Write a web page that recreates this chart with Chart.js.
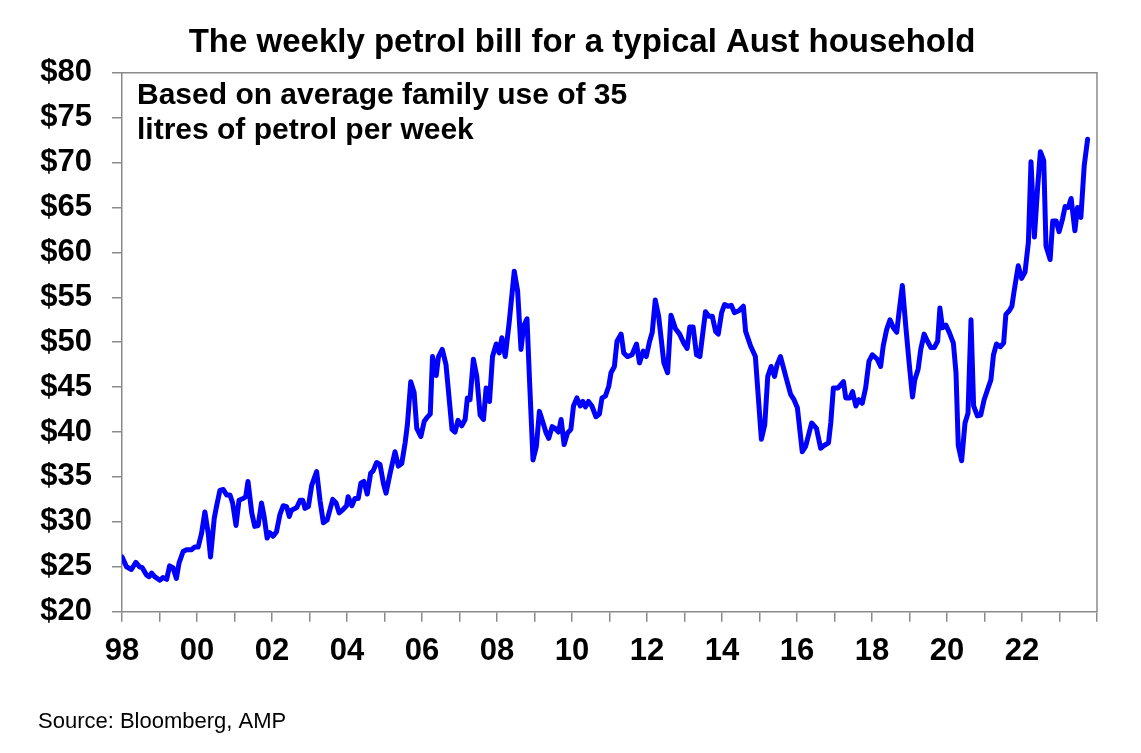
<!DOCTYPE html>
<html>
<head>
<meta charset="utf-8">
<script src="https://cdn.jsdelivr.net/npm/chart.js@4.4.1/dist/chart.umd.min.js"></script>
<style>
  html, body { margin: 0; padding: 0; background: #ffffff; }
  #wrap { width: 1141px; height: 753px; position: relative; }
</style>
</head>
<body>
<div id="wrap"><canvas id="c" width="1141" height="753"></canvas></div>
<script>
// ---- Data ----
const chartTitle = 'The weekly petrol bill for a typical Aust household';
const noteLines = ['Based on average family use of 35', 'litres of petrol per week'];
const sourceText = 'Source: Bloomberg, AMP';

// decimal year of each reading
const dates = [
  1998.00,1998.12,1998.25,1998.37,1998.47,1998.54,1998.65,1998.72,1998.79,1998.87,
  1999.01,1999.09,1999.19,1999.27,1999.36,1999.45,1999.52,1999.63,1999.72,1999.85,1999.94,
  2000.03,2000.12,2000.21,2000.30,2000.36,2000.46,2000.52,2000.61,2000.70,2000.79,2000.88,2000.95,
  2001.04,2001.12,2001.23,2001.30,2001.36,2001.46,2001.54,2001.63,2001.72,2001.79,2001.87,2001.94,
  2002.03,2002.12,2002.21,2002.30,2002.39,2002.46,2002.52,2002.66,2002.75,2002.82,2002.88,2002.97,
  2003.06,2003.19,2003.28,2003.37,2003.47,2003.62,2003.71,2003.79,2003.90,2003.99,
  2004.03,2004.13,2004.21,2004.30,2004.37,2004.45,2004.54,2004.63,2004.70,2004.79,2004.88,2004.97,
  2005.04,2005.15,2005.28,2005.37,2005.46,2005.55,2005.61,2005.70,2005.79,2005.86,2005.97,
  2006.06,2006.13,2006.22,2006.28,2006.38,2006.44,2006.54,2006.64,2006.80,2006.88,2006.96,
  2007.06,2007.15,2007.21,2007.28,2007.37,2007.46,2007.55,2007.64,2007.71,2007.80,2007.88,2007.98,
  2008.06,2008.13,2008.22,2008.33,2008.46,2008.55,2008.64,2008.71,2008.80,2008.87,2008.96,
  2009.05,2009.13,2009.23,2009.31,2009.38,2009.47,2009.55,2009.64,2009.71,2009.79,2009.88,2009.97,
  2010.04,2010.13,2010.22,2010.29,2010.36,2010.44,2010.53,2010.64,2010.73,2010.80,2010.89,2010.98,
  2011.04,2011.13,2011.20,2011.31,2011.38,2011.48,2011.60,2011.72,2011.80,2011.90,2011.98,
  2012.07,2012.14,2012.22,2012.31,2012.45,2012.55,2012.64,2012.76,2012.87,2012.98,
  2013.07,2013.14,2013.23,2013.32,2013.41,2013.56,2013.65,2013.74,2013.83,2013.90,2013.99,
  2014.07,2014.16,2014.25,2014.33,2014.45,2014.57,2014.63,2014.76,2014.89,
  2015.05,2015.14,2015.22,2015.31,2015.40,2015.47,2015.56,2015.70,2015.83,2015.92,
  2016.01,2016.14,2016.23,2016.39,2016.52,2016.63,2016.72,2016.84,2016.90,2016.97,
  2017.09,2017.24,2017.30,2017.41,2017.48,2017.57,2017.65,2017.74,2017.83,2017.92,
  2018.01,2018.14,2018.23,2018.30,2018.39,2018.48,2018.57,2018.66,2018.72,2018.81,2018.90,2018.99,
  2019.08,2019.14,2019.23,2019.30,2019.39,2019.48,2019.57,2019.66,2019.75,2019.81,2019.88,2019.97,
  2020.06,2020.17,2020.24,2020.30,2020.39,2020.48,2020.56,2020.64,2020.71,2020.81,2020.90,2020.99,
  2021.08,2021.17,2021.24,2021.32,2021.42,2021.51,2021.57,2021.66,2021.73,2021.79,2021.90,2021.99,
  2022.08,2022.17,2022.24,2022.33,2022.42,2022.49,2022.58,2022.64,2022.75,2022.82,2022.91,2022.99,
  2023.08,2023.15,2023.23,2023.31,2023.41,2023.48,2023.57,2023.66,2023.75
];

// weekly petrol bill, A$
const bill = [
  26.1,25.0,24.7,25.5,25.0,24.9,24.1,23.9,24.3,23.9,
  23.5,23.8,23.6,25.1,24.9,23.7,25.4,26.7,26.9,26.9,27.2,
  27.2,28.7,31.1,28.7,26.1,30.4,31.7,33.5,33.6,33.0,33.0,32.1,
  29.6,32.4,32.6,32.8,34.5,31.0,29.5,29.6,32.1,30.6,28.2,28.8,
  28.4,28.9,30.8,31.8,31.7,30.6,31.3,31.6,32.4,32.4,31.5,31.7,
  34.1,35.6,32.4,29.9,30.2,32.5,32.1,31.0,31.4,31.8,
  32.8,31.8,32.6,32.6,34.3,34.5,33.1,35.4,35.7,36.6,36.4,34.3,
  33.2,35.4,37.8,36.2,36.5,38.8,40.8,45.6,44.4,40.4,39.5,
  41.2,41.6,42.0,48.4,46.3,48.4,49.2,47.5,40.3,40.0,41.3,
  40.7,41.4,43.8,43.6,48.1,46.2,41.9,41.4,44.9,43.4,48.4,49.8,
  48.8,50.5,48.4,52.4,57.9,55.7,49.2,51.8,52.6,45.5,36.9,
  38.4,42.3,41.0,39.9,39.3,40.6,40.4,40.0,41.4,38.6,39.9,40.3,
  42.9,43.8,42.9,43.4,42.8,43.4,42.9,41.7,42.0,43.8,44.0,45.1,
  46.6,47.3,50.1,50.9,48.8,48.4,48.6,49.8,47.7,49.0,48.4,
  50.1,51.1,54.7,52.9,47.7,46.6,53.0,51.5,50.9,49.9,
  49.3,51.7,51.7,48.6,48.4,53.4,52.9,52.9,51.2,50.9,53.3,
  54.2,54.0,54.1,53.3,53.5,54.0,51.2,49.6,48.4,
  39.2,40.8,46.2,47.3,46.2,47.5,48.4,46.2,44.2,43.6,
  42.7,37.8,38.4,41.0,40.4,38.2,38.5,38.8,41.0,44.9,
  44.9,45.6,43.8,43.8,44.5,42.9,43.6,43.2,44.9,47.9,
  48.6,48.1,47.3,49.6,51.4,52.5,51.6,51.1,53.3,56.3,51.8,47.7,
  43.9,45.8,47.0,49.2,50.9,50.1,49.4,49.4,50.1,53.8,51.6,51.9,
  51.1,49.9,46.6,38.5,36.8,41.0,42.1,52.5,42.9,41.8,41.9,43.6,
  44.7,45.8,48.6,49.8,49.5,49.9,53.1,53.5,54.0,55.7,58.5,57.1,
  57.8,61.1,70.1,61.7,67.4,71.2,70.2,60.7,59.2,63.5,63.5,62.3,
  63.7,65.1,65.0,66.0,62.4,65.0,63.9,69.7,72.6
];

// axis ticks
const xTickYears = [1998,2000,2002,2004,2006,2008,2010,2012,2014,2016,2018,2020,2022];
const xTickLabels = ['98','00','02','04','06','08','10','12','14','16','18','20','22'];
const yTickValues = [20,25,30,35,40,45,50,55,60,65,70,75,80];
const yTickLabels = ['$20','$25','$30','$35','$40','$45','$50','$55','$60','$65','$70','$75','$80'];

// ---- Chart ----
const FONT = '"Liberation Sans", Arial, Helvetica, sans-serif';
const AXIS_GREY = '#8a8a8a';

const points = dates.map((d, i) => ({ x: d, y: bill[i] }));

const textPlugin = {
  id: 'texts',
  afterDraw(chart) {
    const ctx = chart.ctx;
    const a = chart.chartArea;
    ctx.save();
    // box top and right edges
    ctx.strokeStyle = AXIS_GREY;
    ctx.lineWidth = 1.5;
    ctx.beginPath();
    ctx.moveTo(a.left, a.top);
    ctx.lineTo(a.right, a.top);
    ctx.lineTo(a.right, a.bottom);
    ctx.stroke();

    ctx.fillStyle = '#000000';
    ctx.textBaseline = 'alphabetic';
    ctx.textAlign = 'center';
    ctx.font = 'bold 33px ' + FONT;
    ctx.fillText(chartTitle, 582, 52);

    ctx.textAlign = 'left';
    ctx.font = 'bold 30px ' + FONT;
    ctx.fillText(noteLines[0], 137, 104);
    ctx.fillText(noteLines[1], 137, 139);

    ctx.font = '22px ' + FONT;
    ctx.fillText(sourceText, 38, 728);
    ctx.restore();
  }
};

new Chart(document.getElementById('c'), {
  type: 'line',
  data: {
    datasets: [{
      data: points,
      borderColor: '#0000ff',
      borderWidth: 5,
      borderJoinStyle: 'round',
      borderCapStyle: 'round',
      pointRadius: 0,
      tension: 0,
      fill: false
    }]
  },
  options: {
    responsive: false,
    animation: false,
    devicePixelRatio: 1,
    layout: { padding: { top: 72.7, right: 44, left: 0, bottom: 0 } },
    plugins: { legend: { display: false }, tooltip: { enabled: false }, title: { display: false } },
    scales: {
      x: {
        type: 'linear',
        min: 1998,
        max: 2024,
        afterFit: s => { s.height = 141.3; },
        afterBuildTicks: s => {
          const t = [];
          for (let y = 1998; y <= 2024; y++) t.push({ value: y });
          s.ticks = t;
        },
        ticks: {
          autoSkip: false,
          maxRotation: 0,
          padding: 11,
          color: '#000000',
          font: { family: FONT, size: 31, weight: 'bold' },
          callback: v => {
            const i = xTickYears.indexOf(v);
            return i >= 0 ? xTickLabels[i] : '';
          }
        },
        grid: { drawOnChartArea: false, drawTicks: true, tickLength: 10, color: AXIS_GREY, lineWidth: 1.5 },
        border: { display: true, color: AXIS_GREY, width: 1.5 }
      },
      y: {
        min: 20,
        max: 80,
        afterFit: s => { s.width = 122; },
        afterBuildTicks: s => { s.ticks = yTickValues.map(v => ({ value: v })); },
        ticks: {
          padding: 20,
          color: '#000000',
          font: { family: FONT, size: 31, weight: 'bold' },
          callback: v => {
            const i = yTickValues.indexOf(v);
            return i >= 0 ? yTickLabels[i] : '';
          }
        },
        grid: { drawOnChartArea: false, drawTicks: true, tickLength: 10, color: AXIS_GREY, lineWidth: 1.5 },
        border: { display: true, color: AXIS_GREY, width: 1.5 }
      }
    }
  },
  plugins: [textPlugin]
});
</script>
</body>
</html>
